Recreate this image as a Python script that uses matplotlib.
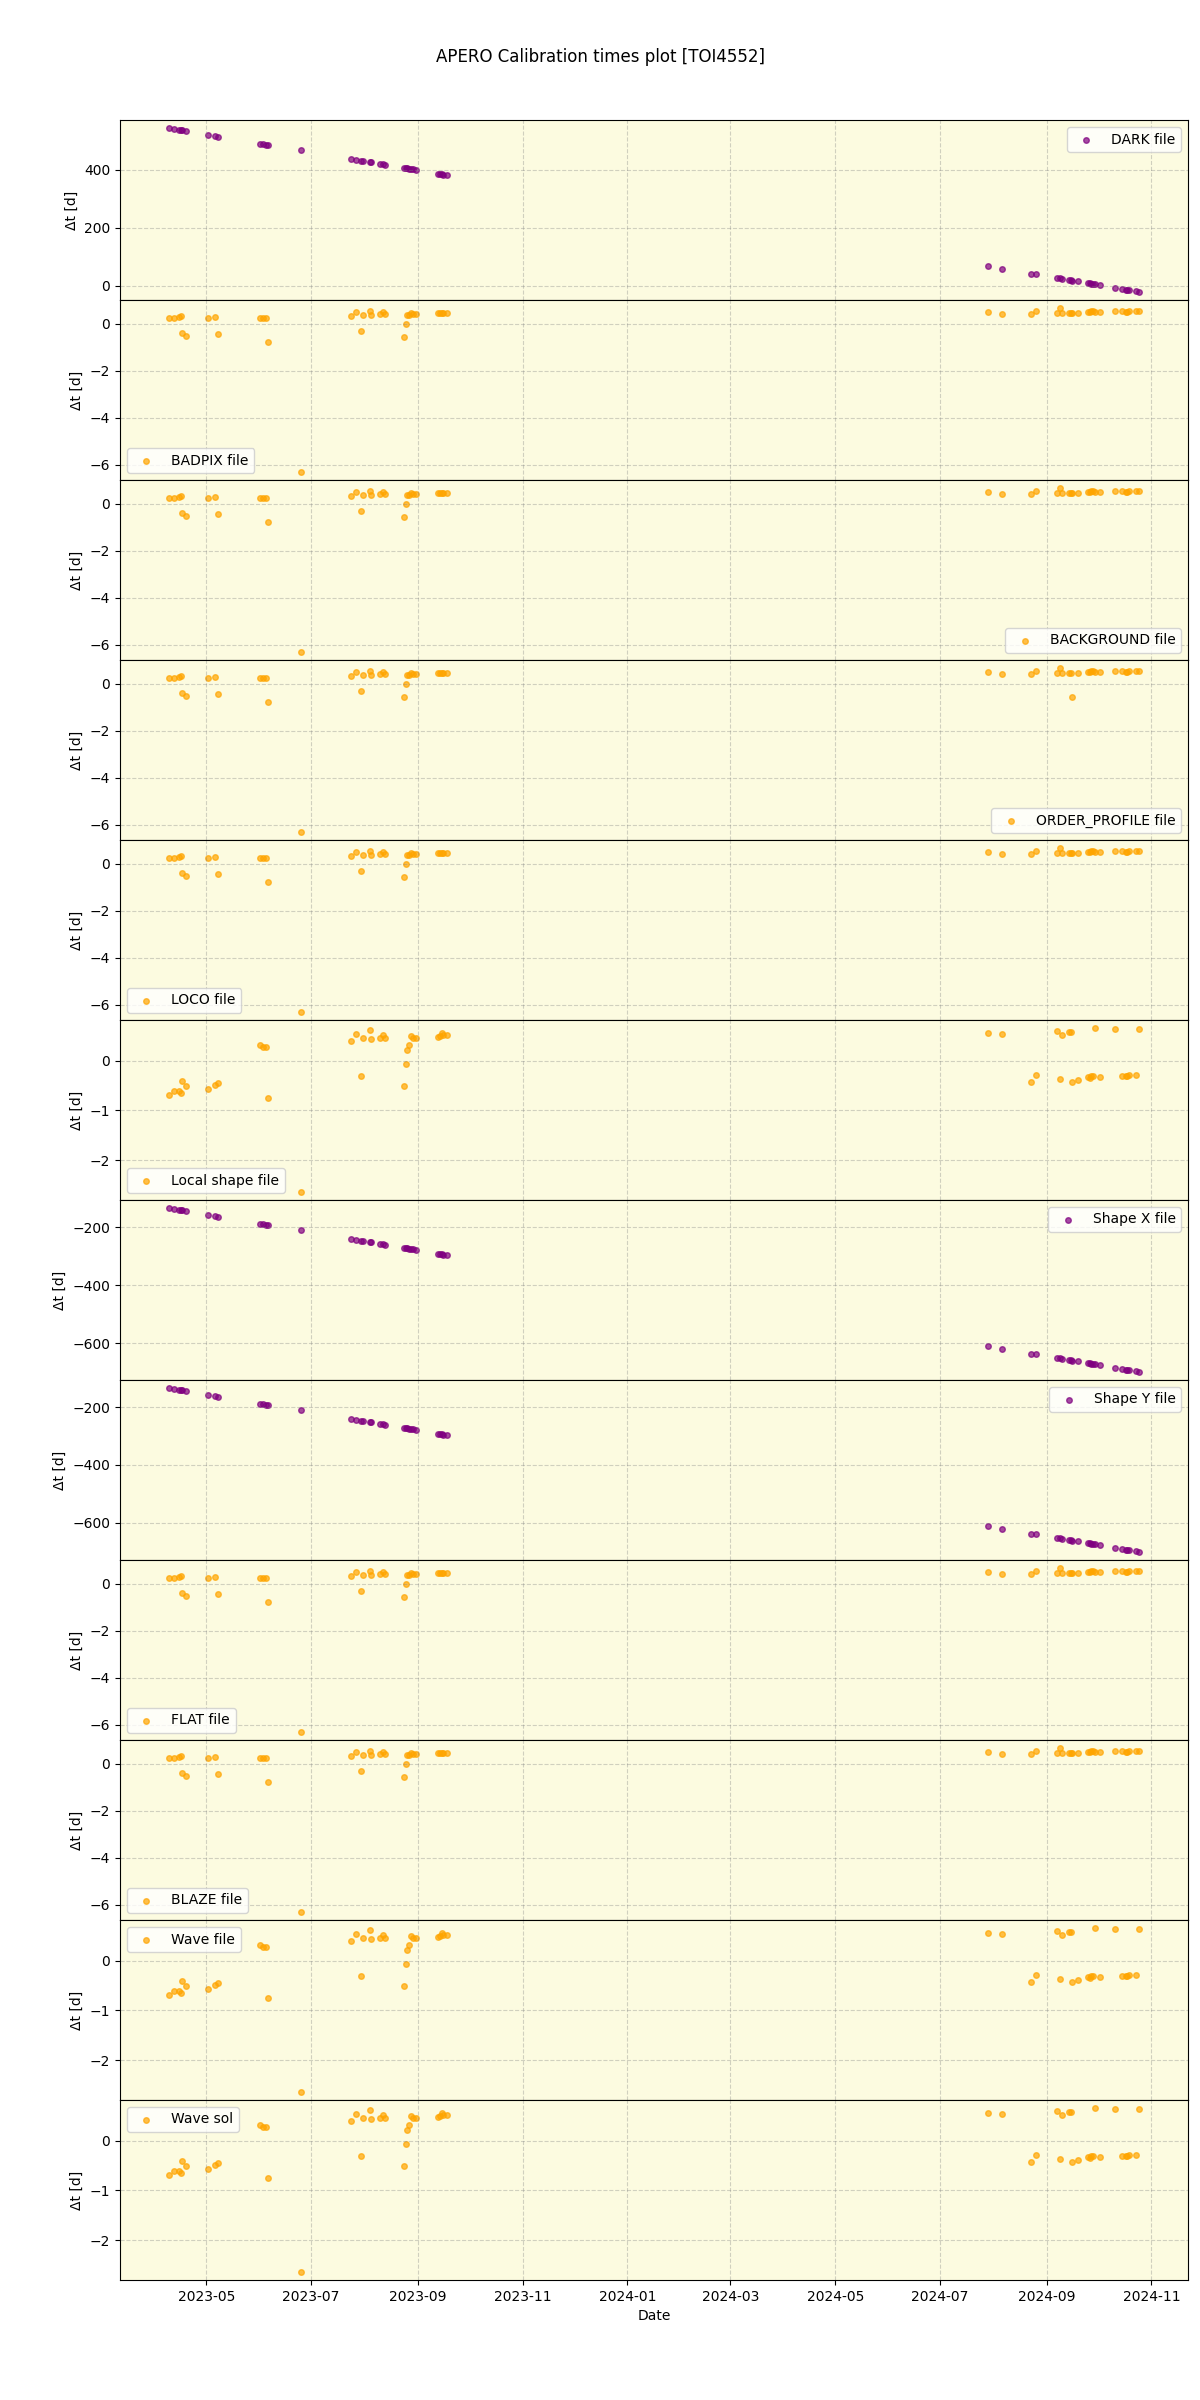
import numpy as np
import pandas as pd
import matplotlib
matplotlib.use("Agg")
import matplotlib.pyplot as plt

# observation nights
obs_dates = [
    "2023-04-09", "2023-04-12", "2023-04-15", "2023-04-16", "2023-04-17", "2023-04-19",
    "2023-05-02", "2023-05-06", "2023-05-08",
    "2023-06-01", "2023-06-03", "2023-06-05", "2023-06-06", "2023-06-25",
    "2023-07-24", "2023-07-27", "2023-07-30", "2023-07-31",
    "2023-08-04", "2023-08-05", "2023-08-10", "2023-08-12", "2023-08-13",
    "2023-08-24", "2023-08-25", "2023-08-26", "2023-08-27", "2023-08-28", "2023-08-29", "2023-08-31",
    "2023-09-13", "2023-09-14", "2023-09-15", "2023-09-16", "2023-09-18",
    "2024-07-29", "2024-08-06", "2024-08-23", "2024-08-26",
    "2024-09-07", "2024-09-09", "2024-09-10", "2024-09-14", "2024-09-15", "2024-09-16",
    "2024-09-19", "2024-09-25", "2024-09-26", "2024-09-27", "2024-09-28", "2024-09-29",
    "2024-10-02", "2024-10-11", "2024-10-15", "2024-10-17", "2024-10-18", "2024-10-19",
    "2024-10-23", "2024-10-25",
]

# time differences (days)
dt_dark = [
    544, 541, 538, 537, 536, 534, 521, 517, 515, 491, 489, 487, 486, 467,
    438, 435, 432, 431, 427, 426, 421, 419, 418, 407, 406, 405, 404, 403, 402, 400,
    387, 386, 385, 384, 382,
    67, 59, 42, 39, 27, 25, 24, 20, 19, 18, 15, 9, 8, 7, 6, 5, 2,
    -7, -11, -13, -14, -15, -19, -21,
]

dt_shape_x = [
    -134, -137, -140, -141, -142, -144, -157, -161, -163, -187, -189, -191, -192, -211,
    -240, -243, -246, -247, -251, -252, -257, -259, -260, -271, -272, -273, -274, -275, -276, -278,
    -291, -292, -293, -294, -296,
    -611, -619, -636, -639, -651, -653, -654, -658, -659, -660, -663, -669, -670, -671, -672, -673,
    -676, -685, -689, -691, -692, -693, -697, -699,
]

dt_shape_y = [
    -135, -138, -141, -142, -143, -145, -158, -162, -164, -188, -190, -192, -193, -212,
    -241, -244, -247, -248, -252, -253, -258, -260, -261, -272, -273, -274, -275, -276, -277, -279,
    -292, -293, -294, -295, -297,
    -612, -620, -637, -640, -652, -654, -655, -659, -660, -661, -664, -670, -671, -672, -673, -674,
    -677, -686, -690, -692, -693, -694, -698, -700,
]

dt_badpix = [
    0.24, 0.24, 0.31, 0.35, -0.40, -0.52, 0.27, 0.31, -0.43,
    0.27, 0.24, 0.23, -0.78, -6.31,
    0.35, 0.50, -0.31, 0.38, 0.54, 0.38, 0.42, 0.50, 0.41,
    -0.54, 0.00, 0.38, 0.38, 0.45, 0.42, 0.41,
    0.45, 0.45, 0.45, 0.46, 0.48,
    0.50, 0.41, 0.41, 0.57, 0.45, 0.67, 0.45, 0.45, 0.45, 0.45,
    0.48, 0.50, 0.51, 0.54, 0.54, 0.51, 0.50, 0.54, 0.54, 0.52, 0.52, 0.54, 0.55, 0.54,
]

# same as BADPIX except one night on 2024-09-16
dt_order_profile = list(dt_badpix)
dt_order_profile[obs_dates.index("2024-09-16")] = -0.57

dt_local = [
    -0.68, -0.60, -0.60, -0.64, -0.41, -0.50, -0.56, -0.48, -0.44,
    0.32, 0.27, 0.27, -0.74, -2.63,
    0.39, 0.53, -0.30, 0.45, 0.62, 0.44, 0.46, 0.52, 0.46,
    -0.50, -0.07, 0.21, 0.31, 0.50, 0.45, 0.45,
    0.48, 0.50, 0.56, 0.51, 0.52,
    0.56, 0.53, -0.42, -0.28, 0.60, -0.37, 0.51, 0.57, 0.57, -0.42,
    -0.39, -0.33, -0.34, -0.30, -0.30, 0.65, -0.33, 0.64, -0.30, -0.30, -0.30, -0.28, -0.28, 0.64,
]

panels = [
    ("DARK file", dt_dark, "purple", "upper right"),
    ("BADPIX file", dt_badpix, "orange", "lower left"),
    ("BACKGROUND file", dt_badpix, "orange", "lower right"),
    ("ORDER_PROFILE file", dt_order_profile, "orange", "lower right"),
    ("LOCO file", dt_badpix, "orange", "lower left"),
    ("Local shape file", dt_local, "orange", "lower left"),
    ("Shape X file", dt_shape_x, "purple", "upper right"),
    ("Shape Y file", dt_shape_y, "purple", "upper right"),
    ("FLAT file", dt_badpix, "orange", "lower left"),
    ("BLAZE file", dt_badpix, "orange", "lower left"),
    ("Wave file", dt_local, "orange", "upper left"),
    ("Wave sol", dt_local, "orange", "upper left"),
]

dates = pd.to_datetime(obs_dates)

fig, axes = plt.subplots(len(panels), 1, figsize=(12, 24), sharex=True)
fig.suptitle("APERO Calibration times plot [TOI4552]", fontsize=12)

for ax, (label, values, color, loc) in zip(axes, panels):
    ax.set_facecolor("#fcfbe0")
    ax.scatter(dates, values, s=16, color=color, alpha=0.7, label=label)
    ax.set_ylabel("\u0394t [d]")
    ax.grid(True, linestyle="--", color="gray", alpha=0.35)
    ax.legend(loc=loc)

axes[-1].set_xlabel("Date")

plt.subplots_adjust(left=0.1, right=0.99, top=0.95, bottom=0.05, hspace=0)
plt.savefig("out.png", dpi=100)
